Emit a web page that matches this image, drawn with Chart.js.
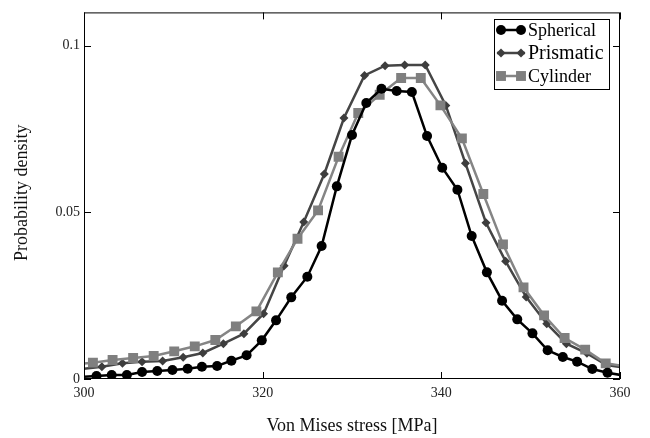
<!DOCTYPE html>
<html>
<head>
<meta charset="utf-8">
<script src="https://cdn.jsdelivr.net/npm/chart.js@4"></script>
<style>
  html, body { margin: 0; padding: 0; background: #fff; }
  #wrap { width: 650px; height: 438px; }
</style>
</head>
<body>
<div id="wrap"><canvas id="densityChart" width="650" height="438"></canvas></div>
<script>
// Stress values (x) and probability density (y) for each shape
const sphericalX = [299.7, 301.4, 303.1, 304.8, 306.5, 308.2, 309.9, 311.6, 313.2, 314.9, 316.5, 318.2, 319.9,
  321.5, 323.2, 325.0, 326.6, 328.3, 330.0, 331.6, 333.3, 335.0, 336.7, 338.4, 340.1, 341.8, 343.4,
  345.1, 346.8, 348.5, 350.2, 351.9, 353.6, 355.2, 356.9, 358.6, 360.3];
const sphericalY = [0.0006, 0.0009, 0.0012, 0.0012, 0.0021, 0.0024, 0.0027, 0.0031, 0.0037, 0.0039, 0.0055, 0.0071, 0.0116,
  0.0176, 0.0245, 0.0307, 0.0399, 0.0578, 0.0732, 0.0828, 0.0871, 0.0864, 0.0861, 0.0729, 0.0634, 0.0568, 0.0429,
  0.0320, 0.0235, 0.0179, 0.0137, 0.0086, 0.0066, 0.0052, 0.0030, 0.0019, 0.0011];

const prismaticX = [299.7, 302.0, 304.3, 306.5, 308.8, 311.1, 313.3, 315.6, 317.9, 320.1, 322.4, 324.6, 326.9,
  329.1, 331.4, 333.7, 335.9, 338.2, 340.5, 342.7, 345.0, 347.2, 349.5, 351.8, 354.0, 356.3, 358.5, 360.8];
const prismaticY = [0.0030, 0.0037, 0.0047, 0.0052, 0.0054, 0.0065, 0.0078, 0.0106, 0.0136, 0.0196, 0.0340, 0.0471, 0.0615,
  0.0783, 0.0911, 0.0940, 0.0942, 0.0942, 0.0821, 0.0647, 0.0469, 0.0353, 0.0246, 0.0166, 0.0106, 0.0077, 0.0042, 0.0033];

const cylinderX = [298.7, 301.0, 303.2, 305.5, 307.8, 310.1, 312.4, 314.7, 317.0, 319.3, 321.7, 323.9, 326.2,
  328.5, 330.7, 333.1, 335.5, 337.7, 339.9, 342.3, 344.7, 346.9, 349.2, 351.5, 353.8, 356.1, 358.4, 360.7];
const cylinderY = [0.0043, 0.0049, 0.0057, 0.0063, 0.0069, 0.0083, 0.0098, 0.0117, 0.0158, 0.0203, 0.0320, 0.0421, 0.0506,
  0.0667, 0.0798, 0.0853, 0.0903, 0.0903, 0.0821, 0.0722, 0.0555, 0.0404, 0.0275, 0.0191, 0.0123, 0.0088, 0.0047, 0.0038];

const seriesNames = ['Spherical', 'Prismatic', 'Cylinder'];
const xTicks = [300, 320, 340, 360];
const yTicks = [0, 0.05, 0.1];
const yTickLabels = ['0', '0.05', '0.1'];
const xTitle = 'Von Mises stress [MPa]';
const yTitle = 'Probability density';

const SERIF = '"Liberation Serif", "Times New Roman", serif';

function toPoints(xs, ys) {
    return xs.map((x, i) => ({ x: x, y: ys[i] }));
}

// hide markers of the points that only carry the line to the frame edge
function radiusInside(r) {
    return ctx => {
        const v = ctx.raw;
        return (v && v.x >= 300 && v.x <= 360) ? r : 0;
    };
}

const styles = [
    { color: '#000000', line: '#000000', point: 'circle', radius: 5 },
    { color: '#3d3d3d', line: '#454545', point: 'rectRot', radius: 4.5 },
    { color: '#7f7f7f', line: '#858585', point: 'rect', radius: 7 }
];

// legend font sizes differ in the original
const legendFontSizes = [18, 20, 18];

function drawMarker(ctx, style, x, y) {
    ctx.fillStyle = style.color;
    ctx.beginPath();
    if (style.point === 'circle') {
        ctx.arc(x, y, style.radius, 0, Math.PI * 2);
    } else if (style.point === 'rect') {
        const h = style.radius * Math.SQRT1_2;
        ctx.rect(x - h, y - h, 2 * h, 2 * h);
    } else {
        const r = style.radius;
        ctx.moveTo(x, y - r);
        ctx.lineTo(x + r, y);
        ctx.lineTo(x, y + r);
        ctx.lineTo(x - r, y);
        ctx.closePath();
    }
    ctx.fill();
}

const frameAndLegend = {
    id: 'frameAndLegend',
    afterDraw(chart) {
        const { ctx, chartArea: a, scales } = chart;
        ctx.save();

        // frame
        ctx.strokeStyle = '#000';
        ctx.lineWidth = 1;
        ctx.strokeRect(a.left + 0.5, a.top + 0.5, a.right - a.left - 1, a.bottom - a.top - 1);

        // inward tick marks on all four sides
        ctx.beginPath();
        xTicks.forEach(v => {
            const px = Math.round(scales.x.getPixelForValue(v)) + 0.5;
            ctx.moveTo(px, a.bottom);
            ctx.lineTo(px, a.bottom - 7);
            ctx.moveTo(px, a.top);
            ctx.lineTo(px, a.top + 7);
        });
        yTicks.forEach(v => {
            const py = Math.round(scales.y.getPixelForValue(v)) + 0.5;
            ctx.moveTo(a.left, py);
            ctx.lineTo(a.left + 7, py);
            ctx.moveTo(a.right, py);
            ctx.lineTo(a.right - 7, py);
        });
        ctx.stroke();

        // axis titles
        ctx.fillStyle = '#111';
        ctx.font = '18px ' + SERIF;
        ctx.textAlign = 'center';
        ctx.textBaseline = 'middle';
        ctx.fillText(xTitle, (a.left + a.right) / 2, 426);
        ctx.save();
        ctx.translate(22, (a.top + a.bottom) / 2 - 3);
        ctx.rotate(-Math.PI / 2);
        ctx.fillText(yTitle, 0, 0);
        ctx.restore();

        // legend box
        const bx = 494, by = 19, bw = 115, bh = 70;
        ctx.fillStyle = '#fff';
        ctx.fillRect(bx, by, bw, bh);
        ctx.strokeStyle = '#000';
        ctx.strokeRect(bx + 0.5, by + 0.5, bw, bh);

        seriesNames.forEach((name, i) => {
            const st = styles[i];
            const y = 30 + i * 23;
            ctx.strokeStyle = st.line;
            ctx.lineWidth = 2.5;
            ctx.beginPath();
            ctx.moveTo(497, y);
            ctx.lineTo(525, y);
            ctx.stroke();
            drawMarker(ctx, st, 501, y);
            drawMarker(ctx, st, 521, y);
            ctx.fillStyle = '#000';
            ctx.font = legendFontSizes[i] + 'px ' + SERIF;
            ctx.textAlign = 'left';
            ctx.textBaseline = 'middle';
            ctx.fillText(name, 528, y + 1);
        });

        ctx.restore();
    }
};

const dataSets = [
    toPoints(sphericalX, sphericalY),
    toPoints(prismaticX, prismaticY),
    toPoints(cylinderX, cylinderY)
];

// spherical on top, cylinder above prismatic
const drawOrder = [0, 2, 1];

const chart = new Chart(document.getElementById('densityChart').getContext('2d'), {
    type: 'line',
    data: {
        datasets: seriesNames.map((name, i) => ({
            label: name,
            data: dataSets[i],
            borderColor: styles[i].line,
            backgroundColor: styles[i].color,
            borderWidth: 2.5,
            pointStyle: styles[i].point,
            pointRadius: radiusInside(styles[i].radius),
            pointBackgroundColor: styles[i].color,
            pointBorderColor: styles[i].color,
            pointBorderWidth: 0,
            tension: 0,
            fill: false,
            order: drawOrder[i]
        }))
    },
    options: {
        responsive: false,
        animation: false,
        devicePixelRatio: 1,
        layout: { padding: { top: 8, right: 30, bottom: 0, left: 0 } },
        plugins: {
            legend: { display: false },
            tooltip: { enabled: false }
        },
        scales: {
            x: {
                type: 'linear',
                min: 300,
                max: 360,
                afterBuildTicks: s => { s.ticks = xTicks.map(v => ({ value: v })); },
                afterFit: s => { s.height = 59; },
                ticks: {
                    autoSkip: false,
                    maxRotation: 0,
                    padding: 6,
                    color: '#222',
                    font: { family: SERIF, size: 14 }
                },
                grid: { display: false, drawTicks: false },
                border: { display: false }
            },
            y: {
                type: 'linear',
                min: 0,
                max: 0.11,
                afterBuildTicks: s => { s.ticks = yTicks.map(v => ({ value: v })); },
                afterFit: s => { s.width = 84; },
                ticks: {
                    autoSkip: false,
                    padding: 4,
                    color: '#222',
                    font: { family: SERIF, size: 14 },
                    callback: (value, index) => yTickLabels[index]
                },
                grid: { display: false, drawTicks: false },
                border: { display: false }
            }
        }
    },
    plugins: [frameAndLegend]
});
</script>
</body>
</html>
